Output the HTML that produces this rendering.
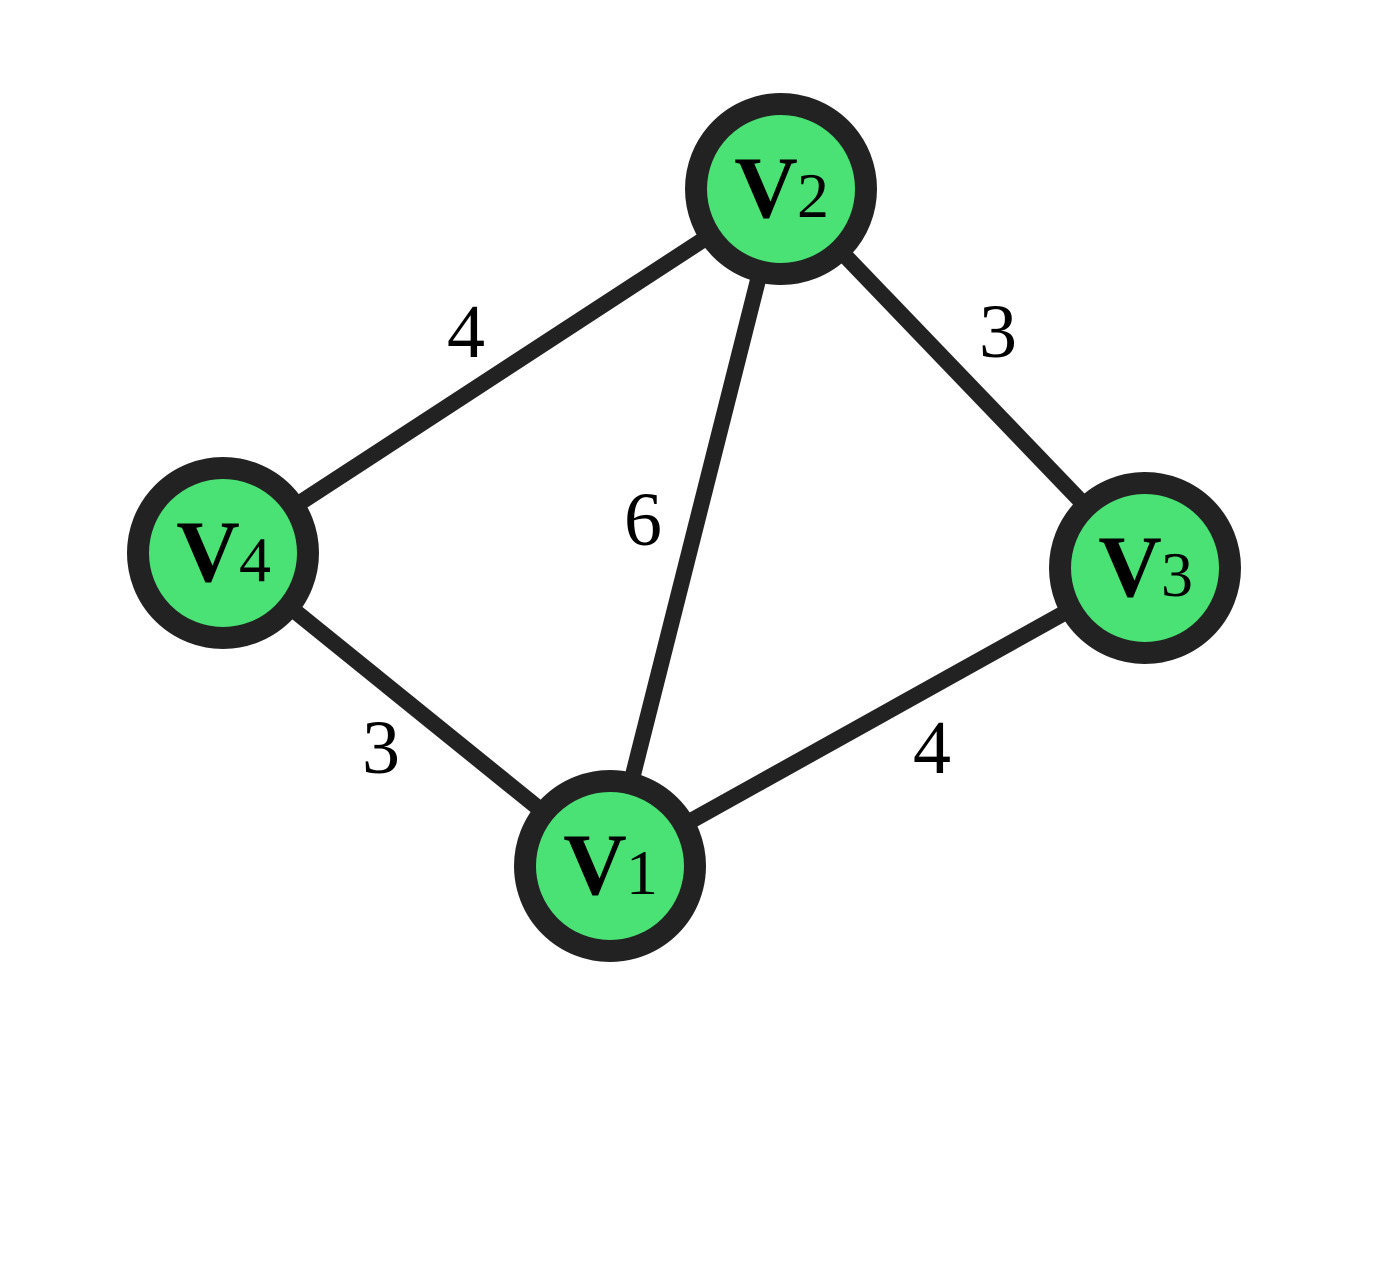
<!DOCTYPE html>
<html><head><style>html,body{margin:0;padding:0;background:#fff;}svg{display:block}</style></head>
<body>
<svg width="1400" height="1276" viewBox="0 0 1400 1276" xmlns="http://www.w3.org/2000/svg">
<g stroke="#222" stroke-width="16" stroke-linecap="butt">
<line x1="781" y1="189" x2="223" y2="553"/>
<line x1="781" y1="189" x2="1145" y2="568"/>
<line x1="781" y1="189" x2="610" y2="866"/>
<line x1="223" y1="553" x2="610" y2="866"/>
<line x1="1145" y1="568" x2="610" y2="866"/>
</g>
<g fill="#4ae275" stroke="#222" stroke-width="22">
<circle cx="781" cy="189" r="85"/>
<circle cx="223" cy="553" r="85"/>
<circle cx="1145" cy="568" r="85"/>
<circle cx="610" cy="866" r="85"/>
</g>
<g font-family="'Liberation Serif', serif" fill="#000">
<text x="766" y="217" font-size="88" font-weight="bold" text-anchor="middle">V</text><text x="797" y="217" font-size="64">2</text>
<text x="208" y="581" font-size="88" font-weight="bold" text-anchor="middle">V</text><text x="239" y="581" font-size="64">4</text>
<text x="1130" y="596" font-size="88" font-weight="bold" text-anchor="middle">V</text><text x="1161" y="596" font-size="64">3</text>
<text x="595" y="894" font-size="88" font-weight="bold" text-anchor="middle">V</text><text x="626" y="894" font-size="64">1</text>
<g font-size="76" text-anchor="middle">
<text x="466" y="357">4</text>
<text x="998" y="357">3</text>
<text x="643" y="545">6</text>
<text x="381" y="773">3</text>
<text x="932" y="773">4</text>
</g>
</g>
</svg>
</body></html>
